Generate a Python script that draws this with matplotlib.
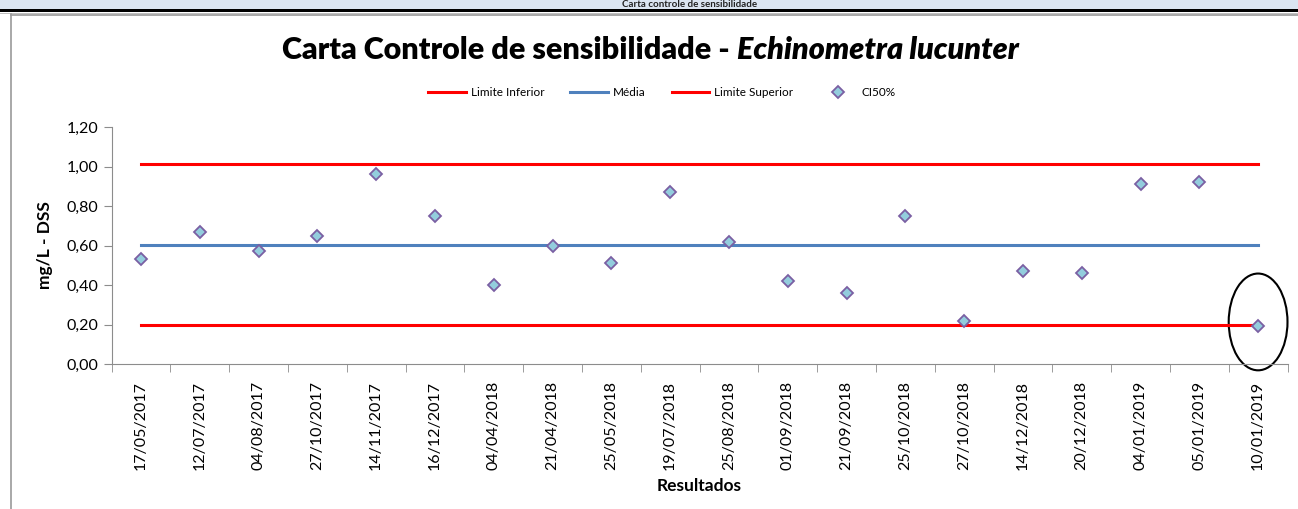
import matplotlib.pyplot as plt
from matplotlib.lines import Line2D
from matplotlib.patches import Ellipse, Rectangle

plt.rcParams["font.family"] = ["Lato", "DejaVu Sans"]

dates = [
    "17/05/2017", "12/07/2017", "04/08/2017", "27/10/2017", "14/11/2017",
    "16/12/2017", "04/04/2018", "21/04/2018", "25/05/2018", "19/07/2018",
    "25/08/2018", "01/09/2018", "21/09/2018", "25/10/2018", "27/10/2018",
    "14/12/2018", "20/12/2018", "04/01/2019", "05/01/2019", "10/01/2019",
]
ci50 = [
    0.53, 0.67, 0.57, 0.65, 0.96, 0.75, 0.40, 0.60, 0.51, 0.87,
    0.62, 0.42, 0.36, 0.75, 0.22, 0.47, 0.46, 0.91, 0.92, 0.19,
]
limite_inferior = 0.196
media = 0.604
limite_superior = 1.011
y_ticks = [0.0, 0.2, 0.4, 0.6, 0.8, 1.0, 1.2]

fig = plt.figure(figsize=(12.98, 5.09), dpi=100)
W, H = 1298, 509

# header band with the sheet title
fig.patches.append(Rectangle((0, 1 - 9 / H), 1, 9 / H, transform=fig.transFigure,
                             facecolor="#dbe5f1", edgecolor="none", zorder=0))
fig.text(690 / W, 1 - 4.5 / H, "Carta controle de sensibilidade", ha="center", va="center",
         fontsize=7, fontweight="bold", color="#222222", zorder=0.5)
fig.patches.append(Rectangle((0, 1 - 12 / H), 1, 3 / H, transform=fig.transFigure,
                             facecolor="black", edgecolor="none", zorder=1))
fig.patches.append(Rectangle((0, 1 - 13.5 / H), 1, 1 / H, transform=fig.transFigure,
                             facecolor="#bfbfbf", edgecolor="none", zorder=1))
# chart area frame
fig.add_artist(Line2D([11 / W, 11 / W], [0, 1 - 14 / H], transform=fig.transFigure,
                      color="#9a9a9a", lw=1.2))
fig.add_artist(Line2D([11 / W, 1], [1 - 14.5 / H, 1 - 14.5 / H], transform=fig.transFigure,
                      color="#9a9a9a", lw=1.2))

ax = fig.add_axes([111.5 / W, 1 - 364 / H, (1287.5 - 111.5) / W, (364 - 127) / H])

x = list(range(len(dates)))
first, last = x[0], x[-1]
ax.plot([first, last], [limite_inferior] * 2, color="#ff0000", lw=2.2, label="Limite Inferior")
ax.plot([first, last], [media] * 2, color="#4f81bd", lw=2.2, label="Média")
ax.plot([first, last], [limite_superior] * 2, color="#ff0000", lw=2.2, label="Limite Superior")
ax.plot(x, ci50, linestyle="none", marker="D", markersize=6.5, markerfacecolor="#93cddd",
        markeredgecolor="#7a5fa3", markeredgewidth=1.3, label="CI50%", zorder=5)

ell = Ellipse((last, 0.213), 1.0, 0.49, fill=False, edgecolor="black", lw=1.5, clip_on=False)
ax.add_patch(ell)

ax.set_xlim(-0.5, len(dates) - 0.5)
ax.set_ylim(0, 1.2)
ax.set_yticks(y_ticks)
ax.set_yticklabels([f"{v:.2f}".replace(".", ",") for v in y_ticks], fontsize=11.5)
ax.set_xticks(x)
ax.set_xticklabels(dates, rotation=90, fontsize=11.5)
ax.set_xticks([i - 0.5 for i in range(len(dates) + 1)], minor=True)
ax.tick_params(axis="x", which="major", length=0, pad=12)
ax.tick_params(axis="x", which="minor", length=6, color="#8c8c8c", direction="out")
ax.tick_params(axis="y", length=6, color="#8c8c8c", direction="out")
for side in ("top", "right"):
    ax.spines[side].set_visible(False)
for side in ("left", "bottom"):
    ax.spines[side].set_color("#8c8c8c")

ax.set_ylabel("mg/L - DSS", fontsize=12.5, fontweight="bold", labelpad=10)
ax.set_xlabel("Resultados", fontsize=12.5, fontweight="bold", labelpad=6)

split = 737 / W
fig.text(split, 1 - 50 / H, "Carta Controle de sensibilidade - ", ha="right", va="center",
         fontsize=22, fontweight="heavy")
fig.text(split, 1 - 50 / H, "Echinometra lucunter", ha="left", va="center",
         fontsize=22, fontweight="heavy", style="italic")

ax.legend(loc="center", bbox_to_anchor=(662 / W, 1 - 93 / H), bbox_transform=fig.transFigure,
          ncol=4, frameon=False, fontsize=8.5, handlelength=3.2, handletextpad=0.4,
          columnspacing=2.2)

fig.savefig("out.png", dpi=100)
